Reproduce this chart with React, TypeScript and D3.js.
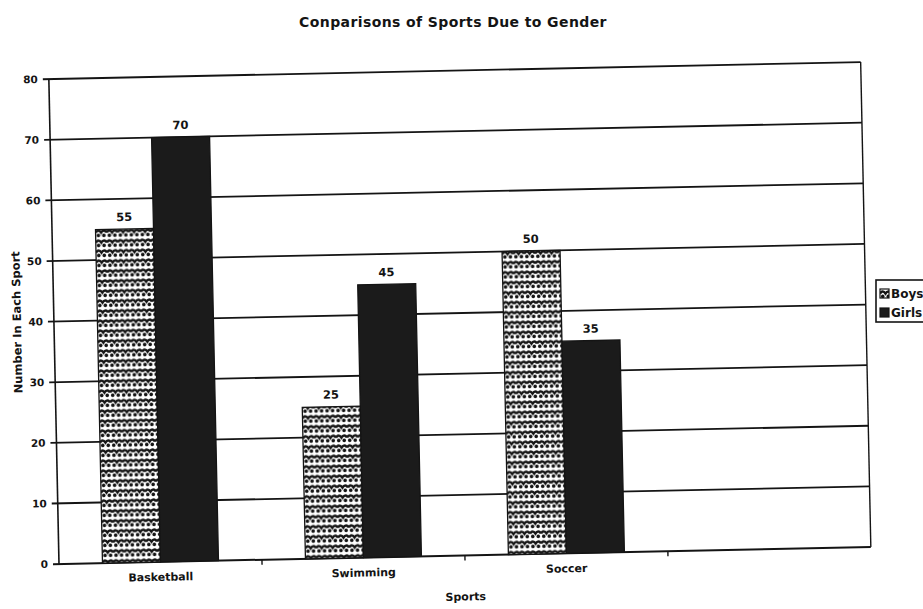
import * as d3 from "d3";

const categories = ["Basketball", "Swimming", "Soccer"];
const seriesNames = ["Boys", "Girls"];
const boys = [55, 25, 50];
const girls = [70, 45, 35];
const yTicks = [0, 10, 20, 30, 40, 50, 60, 70, 80];

const W = 923;
const H = 609;
// plot box before the scan tilt is applied
const left = 59;
const bottom = 564;
const plotW = 812;
const plotH = 485;
const tilt = -1.2;

const font = "'DejaVu Sans', Verdana, sans-serif";
const ink = "#141414";

export default function App() {
  const x0 = d3
    .scaleBand<string>()
    .domain(categories)
    .range([0, (plotW * 3) / 4])
    .paddingInner(1.5 / 3.5)
    .paddingOuter(0.75 / 3.5);
  const x1 = d3.scaleBand<string>().domain(seriesNames).range([0, x0.bandwidth()]);
  const y = d3.scaleLinear().domain([0, 80]).range([plotH, 0]);
  const step = x0.step();

  const rows = categories.map((c, i) => ({ c, vals: [boys[i], girls[i]] }));

  return (
    <svg width={W} height={H} style={{ position: "absolute", left: 0, top: 0, background: "#fff" }}>
      <defs>
        <pattern id="scales" width="11" height="10" patternUnits="userSpaceOnUse">
          <rect width="11" height="10" fill="#fff" />
          <path d="M0,4.5 Q2.75,0.5 5.5,4.5 Q8.25,0.5 11,4.5" fill="none" stroke={ink} strokeWidth="2.6" />
          <circle cx="2.75" cy="7.4" r="1.8" fill={ink} />
          <circle cx="8.25" cy="7.4" r="1.8" fill={ink} />
        </pattern>
      </defs>

      <text
        x={453}
        y={27}
        textAnchor="middle"
        fontFamily={font}
        fontWeight="bold"
        fontSize={14}
        letterSpacing={0.4}
        fill={ink}
      >
        Conparisons of Sports Due to Gender
      </text>

      <g transform={`rotate(${tilt} ${left} ${bottom})`}>
        <g transform={`translate(${left},${bottom - plotH})`}>
          {yTicks.map((t) => (
            <g key={t}>
              <line x1={-6} x2={plotW} y1={y(t)} y2={y(t)} stroke={ink} strokeWidth={t === 0 ? 2 : 1.8} />
              <text
                x={-11}
                y={y(t)}
                dy="0.35em"
                textAnchor="end"
                fontFamily={font}
                fontWeight="bold"
                fontSize={10.5}
                fill={ink}
              >
                {t}
              </text>
            </g>
          ))}
          <line x1={0} x2={0} y1={0} y2={plotH} stroke={ink} strokeWidth={1.6} />
          <line x1={plotW} x2={plotW} y1={0} y2={plotH} stroke={ink} strokeWidth={1.4} />
          {[1, 2, 3].map((k) => (
            <line key={k} x1={k * step} x2={k * step} y1={plotH} y2={plotH + 5} stroke={ink} strokeWidth={1.4} />
          ))}

          {rows.map((r) => (
            <g key={r.c} transform={`translate(${x0(r.c)},0)`}>
              {r.vals.map((v, j) => {
                const bx = x1(seriesNames[j]) as number;
                return (
                  <g key={j}>
                    <rect
                      x={bx}
                      y={y(v)}
                      width={x1.bandwidth()}
                      height={plotH - y(v)}
                      fill={j === 0 ? "url(#scales)" : "#1b1b1b"}
                      stroke={ink}
                      strokeWidth={1.3}
                    />
                    <text
                      x={bx + x1.bandwidth() / 2}
                      y={y(v) - 8}
                      textAnchor="middle"
                      fontFamily={font}
                      fontWeight="bold"
                      fontSize={11.5}
                      fill={ink}
                    >
                      {v}
                    </text>
                  </g>
                );
              })}
              <text
                x={x0.bandwidth() / 2}
                y={plotH + 19}
                textAnchor="middle"
                fontFamily={font}
                fontWeight="bold"
                fontSize={11}
                fill={ink}
              >
                {r.c}
              </text>
            </g>
          ))}

          <text
            x={plotW * 0.5}
            y={plotH + 45}
            textAnchor="middle"
            fontFamily={font}
            fontWeight="bold"
            fontSize={11}
            fill={ink}
          >
            Sports
          </text>
          <text
            transform={`translate(${-33},${plotH / 2}) rotate(-90)`}
            textAnchor="middle"
            fontFamily={font}
            fontWeight="bold"
            fontSize={11.5}
            fill={ink}
          >
            Number In Each Sport
          </text>
        </g>
      </g>

      <g transform="translate(876,280)">
        <rect x={0} y={0} width={60} height={42} fill="#fff" stroke={ink} strokeWidth={1.6} />
        {seriesNames.map((s, i) => (
          <g key={s} transform={`translate(4,${9 + i * 19})`}>
            <rect x={0} y={0} width={9} height={9} fill={i === 0 ? "url(#scales)" : "#1b1b1b"} stroke={ink} strokeWidth={1.2} />
            <text x={11} y={9} fontFamily={font} fontWeight="bold" fontSize={12} fill={ink}>
              {s}
            </text>
          </g>
        ))}
      </g>
    </svg>
  );
}
